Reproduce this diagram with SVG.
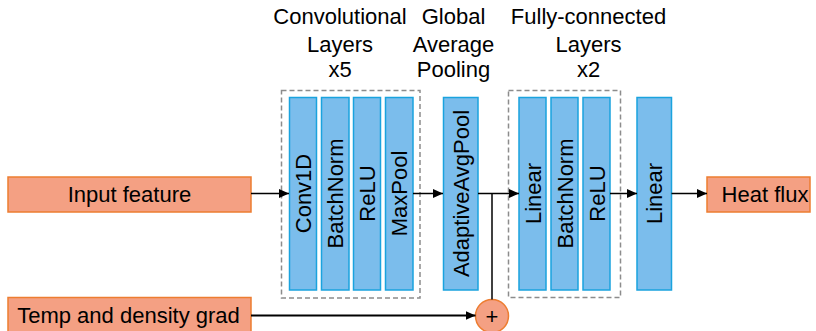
<svg xmlns="http://www.w3.org/2000/svg" width="816" height="331" viewBox="0 0 816 331">
<style>
text{font-family:"Liberation Sans",Arial,sans-serif;font-size:22px;fill:#000}
.t{text-anchor:middle}
.io{fill:#F4A083;stroke:#ED7D31;stroke-width:1.5}
.blk{fill:#7BBDEC;stroke:#1AA3DE;stroke-width:1.5}
.grp{fill:none;stroke:#8C8C8C;stroke-width:1.5;stroke-dasharray:5 3}
.c{fill:none;stroke:#000;stroke-width:1.5}
</style>
<defs>
<marker id="ah" markerWidth="10" markerHeight="10" refX="10" refY="5" orient="auto" markerUnits="userSpaceOnUse">
<path d="M0,0.5 L10,5 L0,9.5 Z" fill="#000"/>
</marker>
</defs>
<g id="titles">
<text class="t" x="340" y="24">Convolutional</text>
<text class="t" x="340" y="52">Layers</text>
<text class="t" x="340" y="77">x5</text>
<text class="t" x="453.5" y="24">Global</text>
<text class="t" x="453.5" y="52">Average</text>
<text class="t" x="453.5" y="77">Pooling</text>
<text class="t" x="588.5" y="24">Fully-connected</text>
<text class="t" x="588.5" y="52">Layers</text>
<text class="t" x="588.5" y="77">x2</text>
</g>
<g id="conv-group"><rect class="grp" x="281.5" y="90.5" width="138.5" height="207.5"/></g>
<g id="fc-group"><rect class="grp" x="508.5" y="90.5" width="112" height="207"/></g>
<g id="input"><rect class="io" x="8" y="177" width="243" height="35"/><text class="t" x="129.5" y="202">Input feature</text></g>
<g id="temp"><rect class="io" x="8" y="297.5" width="243" height="40"/><text class="t" x="128.5" y="323">Temp and density grad</text></g>
<g id="conv1d"><rect class="blk" x="289.5" y="97.5" width="27" height="192.5"/><text class="t" transform="translate(311,193.5) rotate(-90)">Conv1D</text></g>
<g id="bn1"><rect class="blk" x="321.5" y="97.5" width="27.5" height="192.5"/><text class="t" transform="translate(343,193.5) rotate(-90)">BatchNorm</text></g>
<g id="relu1"><rect class="blk" x="353.5" y="97.5" width="27" height="192.5"/><text class="t" transform="translate(375,193.5) rotate(-90)">ReLU</text></g>
<g id="maxpool"><rect class="blk" x="385.5" y="97.5" width="27.5" height="192.5"/><text class="t" transform="translate(407,193.5) rotate(-90)">MaxPool</text></g>
<g id="avgpool"><rect class="blk" x="443.5" y="97.5" width="34.5" height="192.5"/><text class="t" transform="translate(468.5,193.5) rotate(-90)">AdaptiveAvgPool</text></g>
<g id="linear1"><rect class="blk" x="519" y="97.5" width="27" height="192.5"/><text class="t" transform="translate(540.5,193.5) rotate(-90)">Linear</text></g>
<g id="bn2"><rect class="blk" x="551" y="97.5" width="27" height="192.5"/><text class="t" transform="translate(572.5,193.5) rotate(-90)">BatchNorm</text></g>
<g id="relu2"><rect class="blk" x="583" y="97.5" width="27" height="192.5"/><text class="t" transform="translate(604.5,193.5) rotate(-90)">ReLU</text></g>
<g id="linear2"><rect class="blk" x="637" y="97.5" width="34.5" height="192.5"/><text class="t" transform="translate(662,193.5) rotate(-90)">Linear</text></g>
<g id="heatflux"><rect class="io" x="707" y="177" width="103" height="35"/><text class="t" x="765" y="202">Heat flux</text></g>
<g id="plus"><circle class="io" cx="492" cy="316" r="16.5"/><text class="t" x="492" y="324">+</text></g>
<g id="connectors">
<line class="c" x1="251" y1="193.5" x2="289" y2="193.5" marker-end="url(#ah)"/>
<line class="c" x1="413" y1="193.5" x2="443" y2="193.5" marker-end="url(#ah)"/>
<line class="c" x1="478" y1="193.5" x2="519" y2="193.5" marker-end="url(#ah)"/>
<line class="c" x1="492" y1="193.5" x2="492" y2="299.5"/>
<line class="c" x1="610" y1="193.5" x2="637" y2="193.5" marker-end="url(#ah)"/>
<line class="c" x1="671.5" y1="193.5" x2="707" y2="193.5" marker-end="url(#ah)"/>
<line class="c" style="stroke-width:2" x1="251" y1="315.5" x2="475.5" y2="315.5" marker-end="url(#ah)"/>
</g>
</svg>
